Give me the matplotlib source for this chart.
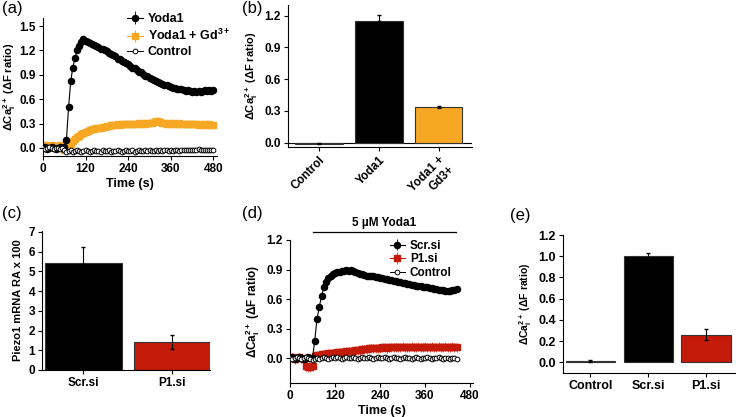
import numpy as np
import matplotlib
matplotlib.use('Agg')
import matplotlib.pyplot as plt
from matplotlib.ticker import FormatStrFormatter

plt.rcParams['font.family'] = ['Liberation Sans', 'DejaVu Sans']
plt.rcParams['font.weight'] = 'bold'
plt.rcParams['axes.labelweight'] = 'bold'
plt.rcParams['mathtext.fontset'] = 'custom'
plt.rcParams['mathtext.rm'] = 'Liberation Sans:bold'
plt.rcParams['mathtext.bf'] = 'Liberation Sans:bold'
plt.rcParams['mathtext.it'] = 'Liberation Sans:bold'
plt.rcParams['mathtext.default'] = 'bf'

# ---------------- data ----------------
t_a = np.arange(0, 481, 6)
yoda1_a = [0.00, 0.01, -0.01, 0.00, 0.01, 0.00, -0.01, 0.00, 0.01, 0.00,
           0.01, 0.10, 0.50, 0.82, 0.99, 1.11, 1.20, 1.25, 1.30, 1.34,
           1.32, 1.31, 1.29, 1.28, 1.27, 1.25, 1.24, 1.22, 1.22, 1.20,
           1.19, 1.17, 1.16, 1.14, 1.13, 1.10, 1.09, 1.07, 1.06, 1.04,
           1.03, 1.01, 0.99, 0.98, 0.96, 0.94, 0.93, 0.91, 0.89, 0.88,
           0.86, 0.85, 0.84, 0.82, 0.81, 0.80, 0.79, 0.78, 0.77, 0.76,
           0.75, 0.74, 0.74, 0.73, 0.72, 0.72, 0.71, 0.70, 0.71, 0.70,
           0.69, 0.70, 0.69, 0.70, 0.69, 0.70, 0.71, 0.70, 0.71, 0.70,
           0.71]
gd_a = [0.02, 0.03, 0.01, 0.02, 0.03, 0.02, 0.01, 0.02, 0.03, 0.01,
        -0.02, -0.03, 0.02, 0.05, 0.08, 0.11, 0.13, 0.15, 0.17, 0.18,
        0.19, 0.21, 0.22, 0.23, 0.23, 0.24, 0.25, 0.25, 0.26, 0.26,
        0.27, 0.27, 0.28, 0.28, 0.28, 0.29, 0.28, 0.29, 0.29, 0.29,
        0.30, 0.29, 0.30, 0.30, 0.30, 0.31, 0.30, 0.31, 0.30, 0.31,
        0.31, 0.31, 0.32, 0.33, 0.33, 0.32, 0.31, 0.31, 0.30, 0.31,
        0.30, 0.31, 0.30, 0.30, 0.31, 0.30, 0.29, 0.30, 0.29, 0.30,
        0.29, 0.30, 0.29, 0.28, 0.29, 0.28, 0.29, 0.28, 0.29, 0.28,
        0.28]
ctrl_a = [0.00, -0.01, 0.00, 0.01, 0.00, -0.01, 0.00, 0.00, -0.01, 0.00,
          -0.03, -0.05, -0.04, -0.03, -0.05, -0.04, -0.03, -0.04, -0.05, -0.04,
          -0.03, -0.04, -0.05, -0.04, -0.03, -0.04, -0.04, -0.05, -0.03, -0.04,
          -0.04, -0.03, -0.05, -0.04, -0.04, -0.03, -0.04, -0.05, -0.04, -0.03,
          -0.04, -0.04, -0.03, -0.05, -0.04, -0.03, -0.04, -0.04, -0.03, -0.04,
          -0.03, -0.04, -0.04, -0.03, -0.04, -0.03, -0.04, -0.03, -0.03, -0.04,
          -0.03, -0.04, -0.03, -0.03, -0.04, -0.03, -0.03, -0.02, -0.03, -0.03,
          -0.02, -0.03, -0.02, -0.01, -0.03, -0.02, -0.03, -0.02, -0.03, -0.02,
          -0.02]
err_yoda1_a = 0.03
err_gd_a = 0.02

cats_b = ['Control', 'Yoda1', 'Yoda1 +\nGd3+']
vals_b = [-0.01, 1.15, 0.34]
err_b = [0.005, 0.06, 0.01]

cats_c = ['Scr.si', 'P1.si']
vals_c = [5.45, 1.40]
err_c = [0.80, 0.35]

t_d = np.arange(0, 445, 6)
scr_d = [0.00, 0.01, -0.01, 0.00, 0.01, 0.00, -0.01, 0.00, 0.01, 0.00,
         0.00, 0.18, 0.40, 0.52, 0.63, 0.72, 0.77, 0.81, 0.84, 0.86,
         0.87, 0.88, 0.88, 0.89, 0.89, 0.90, 0.89, 0.90, 0.89, 0.88,
         0.87, 0.86, 0.86, 0.85, 0.84, 0.84, 0.83, 0.83, 0.82, 0.82,
         0.81, 0.81, 0.80, 0.80, 0.79, 0.79, 0.78, 0.78, 0.77, 0.77,
         0.76, 0.76, 0.75, 0.75, 0.74, 0.74, 0.73, 0.73, 0.73, 0.72,
         0.72, 0.72, 0.71, 0.71, 0.70, 0.70, 0.69, 0.69, 0.69, 0.68,
         0.68, 0.68, 0.69, 0.69, 0.70]
p1_d = [0.00, 0.01, -0.01, 0.00, 0.01, 0.00, -0.01, -0.08, -0.09, -0.09,
        -0.08, 0.02, 0.03, 0.03, 0.04, 0.04, 0.04, 0.05, 0.05, 0.05,
        0.05, 0.06, 0.06, 0.06, 0.06, 0.07, 0.07, 0.07, 0.07, 0.08,
        0.08, 0.08, 0.09, 0.09, 0.09, 0.10, 0.10, 0.10, 0.10, 0.10,
        0.10, 0.11, 0.11, 0.10, 0.11, 0.11, 0.11, 0.11, 0.11, 0.11,
        0.12, 0.11, 0.11, 0.11, 0.12, 0.11, 0.11, 0.12, 0.11, 0.11,
        0.12, 0.11, 0.11, 0.12, 0.11, 0.11, 0.12, 0.11, 0.11, 0.12,
        0.11, 0.11, 0.12, 0.11, 0.11]
ctrl_d = [0.00, -0.01, 0.00, 0.01, 0.00, -0.01, 0.00, 0.01, 0.00, -0.01,
          -0.02, -0.01, 0.00, -0.01, 0.00, 0.01, 0.00, -0.01, 0.00, 0.01,
          0.00, 0.01, 0.00, -0.01, 0.00, 0.01, 0.00, 0.00, 0.01, 0.00,
          -0.01, 0.00, 0.01, 0.00, 0.00, 0.01, 0.00, -0.01, 0.00, 0.01,
          0.00, 0.00, 0.01, 0.00, -0.01, 0.00, 0.01, 0.00, 0.00, -0.01,
          0.00, 0.01, 0.00, 0.00, -0.01, 0.00, 0.01, 0.00, -0.01, 0.00,
          0.00, 0.01, 0.00, -0.01, 0.00, 0.00, 0.01, 0.00, -0.01, 0.00,
          0.00, -0.01, 0.00, 0.00, -0.01]
err_scr_d = 0.025
err_p1_d = 0.045
yoda_window = [61, 443]

cats_e = ['Control', 'Scr.si', 'P1.si']
vals_e = [0.01, 1.00, 0.26]
err_e = [0.01, 0.03, 0.05]

ORANGE = '#F6A824'
RED = '#C41A0A'
YLAB = r'$\Delta$Ca$^{2+}_{i}$ ($\Delta$F ratio)'
TICK_FS = 8.5

# ---------------- figure ----------------
fig = plt.figure(figsize=(7.36, 4.17), dpi=100)
W, H = 736.0, 417.0


def add_ax(l, r, t, b):
    return fig.add_axes([l / W, 1 - b / H, (r - l) / W, (b - t) / H])


def style(ax, fs=TICK_FS):
    ax.spines['top'].set_visible(False)
    ax.spines['right'].set_visible(False)
    ax.tick_params(direction='out', length=3, width=0.8, labelsize=fs, pad=2)
    for lab in ax.get_xticklabels() + ax.get_yticklabels():
        lab.set_fontweight('bold')


# (a)
ax = add_ax(43, 217, 18, 156)
h1 = ax.errorbar(t_a, yoda1_a, yerr=err_yoda1_a, color='black', lw=0.8, marker='o',
                 ms=4.4, elinewidth=0.6, capsize=0, label='Yoda1', zorder=3)
h2 = ax.errorbar(t_a, gd_a, yerr=err_gd_a, color=ORANGE, lw=0.8, marker='s', ms=4.0,
                 elinewidth=0.7, capsize=0, label='Yoda1 + Gd$^{3+}$', zorder=2)
h3, = ax.plot(t_a, ctrl_a, color='black', lw=0.7, marker='o', ms=3.4, mfc='white', mew=0.7,
              label='Control', zorder=4)
ax.set_xlim(0, 490)
ax.set_ylim(-0.1, 1.6)
ax.set_xticks([0, 120, 240, 360, 480])
ax.set_yticks([0.0, 0.3, 0.6, 0.9, 1.2, 1.5])
ax.yaxis.set_major_formatter(FormatStrFormatter('%.1f'))
ax.set_xlabel('Time (s)', fontsize=9, labelpad=2)
ax.set_ylabel(YLAB, fontsize=8, labelpad=1)
style(ax)
ax.legend(handles=[h1, h2, h3], loc='upper left', bbox_to_anchor=(0.43, 1.1), frameon=False,
          handlelength=1.3, handletextpad=0.4, labelspacing=0.25, borderpad=0.2,
          prop={'weight': 'bold', 'size': 9})

# (b)
ax = add_ax(288, 472, 5, 147)
xb = np.arange(len(cats_b))
ax.bar(xb, vals_b, width=0.8, color=['black', 'black', ORANGE], edgecolor='#333333', lw=0.8, zorder=2)
ax.errorbar(xb, vals_b, yerr=[[0, 0, err_b[2]], err_b], fmt='none', ecolor='black',
            elinewidth=0.8, capsize=1.5, zorder=3)
ax.axhline(0, color='black', lw=0.8, zorder=1)
ax.set_xlim(-0.52, 2.56)
ax.set_ylim(-0.04, 1.3)
ax.set_yticks([0.0, 0.3, 0.6, 0.9, 1.2])
ax.yaxis.set_major_formatter(FormatStrFormatter('%.1f'))
ax.set_xticks(xb)
ax.set_xticklabels(cats_b, rotation=45, ha='right', rotation_mode='anchor', fontsize=TICK_FS)
ax.set_ylabel(YLAB, fontsize=8, labelpad=3)
style(ax)

# (c)
ax = add_ax(42, 210, 231, 370)
xc = np.arange(len(cats_c))
ax.bar(xc, vals_c, width=0.86, color=['black', RED], edgecolor='#333333', lw=0.8, zorder=2)
ax.errorbar(xc, vals_c, yerr=err_c, fmt='none', ecolor='black', elinewidth=0.8,
            capsize=1.2, zorder=3)
ax.set_xlim(-0.46, 1.42)
ax.set_ylim(0, 7.05)
ax.set_yticks(range(0, 8))
ax.set_xticks(xc)
ax.set_xticklabels(cats_c, fontsize=TICK_FS)
ax.set_ylabel('Piezo1 mRNA RA x 100', fontsize=8, labelpad=4)
style(ax)

# (d)
ax = add_ax(290, 473, 240, 383)
g1 = ax.errorbar(t_d, scr_d, yerr=err_scr_d, color='black', lw=0.8, marker='o', ms=4.4,
                 elinewidth=0.6, capsize=0, label='Scr.si', zorder=3)
g2 = ax.errorbar(t_d, p1_d, yerr=err_p1_d, color=RED, lw=0.8, marker='s', ms=3.8,
                 elinewidth=0.7, ecolor='#D9604F', capsize=0, label='P1.si', zorder=2)
g3, = ax.plot(t_d, ctrl_d, color='black', lw=0.7, marker='o', ms=3.4, mfc='white', mew=0.7,
              label='Control', zorder=4)
ax.set_xlim(0, 488)
ax.set_ylim(-0.25, 1.2)
ax.set_xticks([0, 120, 240, 360, 480])
ax.set_yticks([0.0, 0.3, 0.6, 0.9, 1.2])
ax.yaxis.set_major_formatter(FormatStrFormatter('%.1f'))
ax.set_xlabel('Time (s)', fontsize=9, labelpad=2)
ax.set_ylabel(YLAB, fontsize=8.5, labelpad=3)
ax.plot(yoda_window, [1.28, 1.28], color='black', lw=0.9, clip_on=False)
ax.text(np.mean(yoda_window), 1.31, '5 µM Yoda1', ha='center', va='bottom',
        fontsize=8.5, fontweight='bold')
style(ax)
ax.legend(handles=[g1, g2, g3], loc='upper left', bbox_to_anchor=(0.5, 1.06), frameon=False,
          handlelength=1.3, handletextpad=0.4, labelspacing=0.15, borderpad=0.2,
          prop={'weight': 'bold', 'size': 8.5})

# (e)
ax = add_ax(563, 735, 235, 373)
xe = np.arange(len(cats_e))
ax.bar(xe, vals_e, width=0.85, color=['black', 'black', RED], edgecolor='#333333', lw=0.8, zorder=2)
ax.errorbar(xe, vals_e, yerr=err_e, fmt='none', ecolor='black', elinewidth=0.8,
            capsize=1.2, zorder=3)
ax.set_xlim(-0.47, 2.5)
ax.set_ylim(-0.1, 1.2)
ax.set_yticks([0.0, 0.2, 0.4, 0.6, 0.8, 1.0, 1.2])
ax.yaxis.set_major_formatter(FormatStrFormatter('%.1f'))
ax.set_xticks(xe)
ax.set_xticklabels(cats_e, fontsize=TICK_FS)
ax.set_ylabel(YLAB, fontsize=7.5, labelpad=3)
style(ax, fs=9)

# panel letters
for lab, x, y in [('(a)', 2, 1), ('(b)', 242, 1), ('(c)', 2, 206), ('(d)', 242, 206), ('(e)', 510, 208)]:
    fig.text(x / W, 1 - y / H, lab, fontsize=12, fontweight='normal', va='top', ha='left')

fig.savefig('out.png', dpi=100)
